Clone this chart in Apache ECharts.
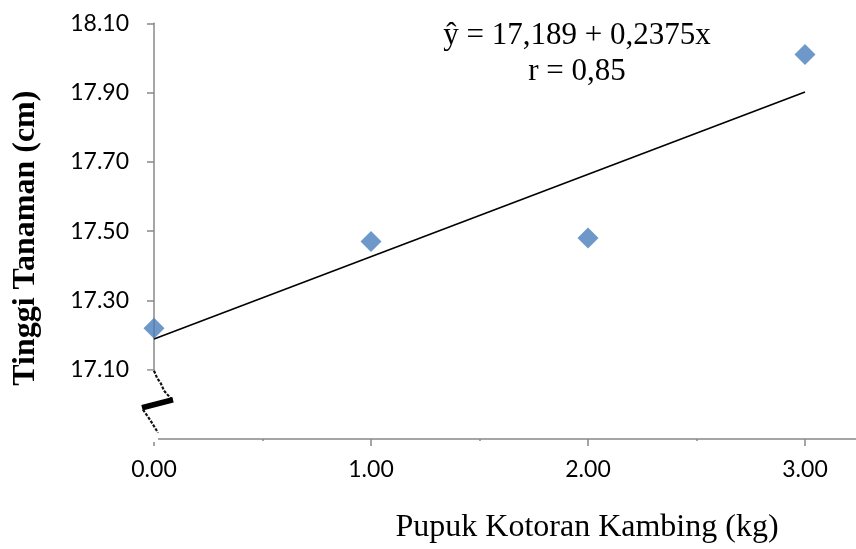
<!DOCTYPE html>
<html><head><meta charset="utf-8">
<script src="https://cdn.jsdelivr.net/npm/echarts@6/dist/echarts.min.js"></script>
<style>html,body{margin:0;padding:0;background:#fff}#c{width:856px;height:549px}</style>
</head><body><div id="c"></div>
<script>
// ---- data ----
const xValues = [0, 1, 2, 3];
const yValues = [17.22, 17.47, 17.48, 18.01];
const trendX = [0, 3];
const trendY = [17.189, 17.9015];
const yTicks = [17.10, 17.30, 17.50, 17.70, 17.90, 18.10];
const xTicks = [0, 1, 2, 3];
const xMinorTicks = [0.5, 1.5, 2.5];
const equationLines = ['ŷ = 17,189 + 0,2375x', 'r = 0,85'];
const xTitle = 'Pupuk Kotoran Kambing (kg)';
const yTitle = 'Tinggi Tanaman (cm)';

const chart = echarts.init(document.getElementById('c'), null, {renderer: 'canvas'});
const axisColor = '#888888';
const tickFont = {fontFamily: 'Lato', fontSize: 23, color: '#000'};
const xMin = 0, xMax = 3.235, yMin = 16.9, yMax = 18.1;

const option = {
  animation: false,
  backgroundColor: '#fff',
  grid: {left: 154, top: 23.3, right: 0, bottom: 109.7},
  xAxis: [{
    type: 'value', min: xMin, max: xMax, position: 'bottom',
    axisLine: {show: true, lineStyle: {color: axisColor, width: 1.5}},
    axisTick: {show: true, length: 7, customValues: xTicks, lineStyle: {color: axisColor, width: 1.5}},
    axisLabel: {customValues: xTicks, formatter: v => Number(v).toFixed(2), margin: 19, ...tickFont},
    splitLine: {show: false},
    name: xTitle, nameLocation: 'middle', nameGap: 73,
    nameTextStyle: {fontFamily: 'Liberation Serif', fontSize: 32, color: '#000', padding: [0, 0, 0, 164]}
  }, {
    type: 'value', min: xMin, max: xMax, position: 'bottom',
    axisLine: {show: false},
    axisTick: {show: true, length: 2, customValues: xMinorTicks, lineStyle: {color: axisColor, width: 1.5}},
    axisLabel: {show: false},
    splitLine: {show: false}
  }],
  yAxis: {
    type: 'value', min: yMin, max: yMax,
    axisLine: {show: true, lineStyle: {color: axisColor, width: 1.5}},
    axisTick: {show: true, length: 7, customValues: yTicks, lineStyle: {color: axisColor, width: 1.5}},
    axisLabel: {customValues: yTicks, formatter: v => Number(v).toFixed(2), margin: 25, ...tickFont},
    splitLine: {show: false},
    name: yTitle, nameLocation: 'middle', nameGap: 112, nameRotate: 90,
    nameTextStyle: {fontFamily: 'Liberation Serif', fontWeight: 'bold', fontSize: 32, color: '#000', padding: [0, 14, 0, 0]}
  },
  series: [{
    type: 'line', xAxisIndex: 0,
    data: trendX.map((x, i) => [x, trendY[i]]),
    symbol: 'none', lineStyle: {color: '#000', width: 1.6}, z: 2
  }, {
    type: 'scatter', xAxisIndex: 0,
    data: xValues.map((x, i) => [x, yValues[i]]),
    symbol: 'diamond', symbolSize: [21, 21],
    itemStyle: {color: '#4a7ebb'}, z: 3
  }]
};
chart.setOption(option);

// axis break decoration below 17.10, anchored to the scales
const pTop = chart.convertToPixel({gridIndex: 0}, [xMin, yTicks[0]]);
const pBot = chart.convertToPixel({gridIndex: 0}, [xMin, yMin]);
const ax = pTop[0], yt = pTop[1], yb = pBot[1];
chart.setOption({
  graphic: [
    {type: 'rect', shape: {x: ax - 10, y: yt + 1, width: 14, height: yb - yt + 2}, style: {fill: '#fff'}, z: 100},
    {type: 'polyline', shape: {points: [[ax, yt + 1], [ax + 3, yt + 8], [ax + 7, yt + 14], [ax + 10, yt + 21], [ax + 18, yt + 30]]},
      style: {stroke: '#111', lineWidth: 2.2, lineDash: [3, 1.5], fill: null}, z: 101},
    {type: 'line', shape: {x1: ax + 19, y1: yt + 30, x2: ax - 12, y2: yt + 38}, style: {stroke: '#000', lineWidth: 5.5}, z: 101},
    {type: 'polyline', shape: {points: [[ax - 11, yt + 40], [ax - 4, yt + 50], [ax + 4, yt + 63]]},
      style: {stroke: '#111', lineWidth: 2.2, lineDash: [3, 1.5], fill: null}, z: 101},
    {type: 'text', style: {text: equationLines.join('\n'), x: 577, y: 18, textAlign: 'center', textVerticalAlign: 'top',
      font: '31px "Liberation Serif"', lineHeight: 36, fill: '#000'}, z: 10}
  ]
});
</script></body></html>
